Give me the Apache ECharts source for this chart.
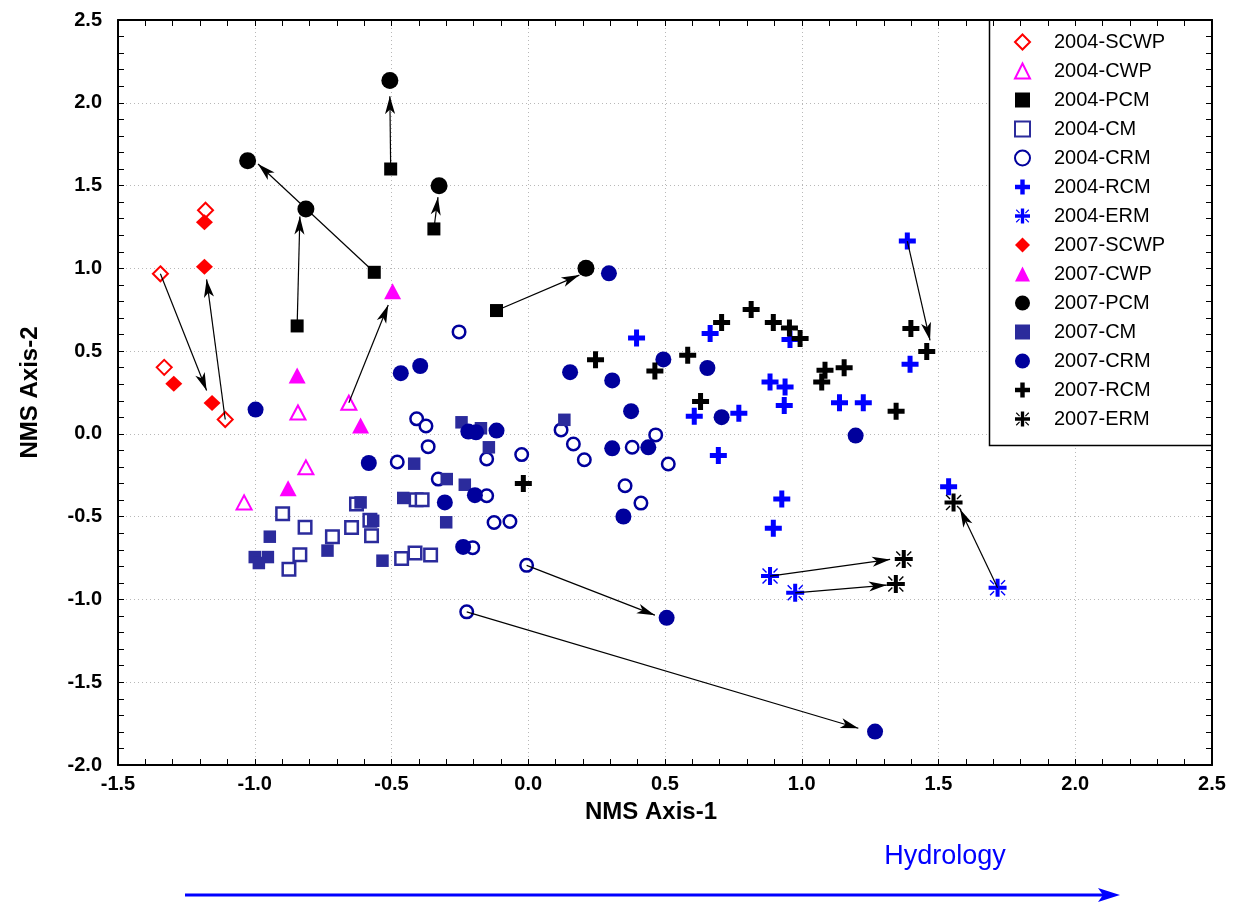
<!DOCTYPE html>
<html><head><meta charset="utf-8">
<script src="https://cdn.jsdelivr.net/npm/echarts@6/dist/echarts.min.js"></script>
<style>html,body{margin:0;padding:0;background:#fff}#c{width:1233px;height:905px}</style>
</head><body><div id="c"></div>
<script>
// ---- data ----
const scwp2004 = [[-1.180,1.351],[-1.345,0.967],[-1.331,0.402],[-1.108,0.087]];
const cwp2004  = [[-0.656,0.188],[-0.842,0.129],[-0.813,-0.202],[-1.039,-0.414]];
const pcm2004  = [[-0.503,1.600],[-0.563,0.976],[-0.845,0.652],[-0.345,1.238],[-0.116,0.745]];
const cm2004   = [[-0.898,-0.483],[-0.816,-0.564],[-0.835,-0.730],[-0.875,-0.818],[-0.716,-0.622],
                  [-0.628,-0.424],[-0.646,-0.566],[-0.579,-0.521],[-0.573,-0.616],[-0.463,-0.752],
                  [-0.414,-0.719],[-0.357,-0.732],[-0.410,-0.398],[-0.388,-0.398]];
const crm2004  = [[-0.253,0.616],[-0.408,0.091],[-0.374,0.048],[-0.366,-0.077],[-0.479,-0.170],
                  [-0.329,-0.273],[-0.152,-0.152],[-0.152,-0.374],[-0.024,-0.125],[-0.125,-0.535],
                  [-0.067,-0.529],[-0.203,-0.687],[-0.006,-0.794],[-0.225,-1.075],[0.120,0.024],
                  [0.165,-0.061],[0.205,-0.156],[0.380,-0.081],[0.466,-0.006],[0.512,-0.182],
                  [0.354,-0.313],[0.412,-0.418]];
const rcm2004  = [[0.396,0.579],[0.665,0.606],[0.607,0.107],[0.770,0.124],[0.695,-0.130],
                  [0.957,0.570],[0.884,0.313],[0.939,0.283],[0.936,0.171],[1.138,0.188],
                  [1.225,0.188],[1.396,0.420],[1.386,1.165],[1.537,-0.319],[0.927,-0.394],[0.896,-0.570]];
const erm2004  = [[0.884,-0.859],[0.976,-0.960],[1.716,-0.929]];
const scwp2007 = [[-1.184,1.279],[-1.184,1.010],[-1.296,0.303],[-1.156,0.186]];
const cwp2007  = [[-0.496,0.862],[-0.845,0.353],[-0.613,0.050],[-0.878,-0.328]];
const pcm2007  = [[-0.506,2.135],[-1.026,1.650],[-0.813,1.359],[-0.326,1.499],[0.211,1.000]];
const cm2007   = [[-0.945,-0.621],[-1.000,-0.744],[-0.952,-0.744],[-0.985,-0.780],[-0.734,-0.705],
                  [-0.613,-0.414],[-0.567,-0.525],[-0.533,-0.766],[-0.457,-0.387],[-0.417,-0.180],
                  [-0.298,-0.273],[-0.232,-0.307],[-0.300,-0.534],[-0.244,0.070],[-0.173,0.034],
                  [-0.144,-0.081],[0.132,0.085]];
const crm2007  = [[-0.997,0.147],[-0.466,0.367],[-0.395,0.410],[-0.583,-0.176],[-0.305,-0.414],
                  [-0.219,0.014],[-0.191,0.010],[-0.116,0.020],[-0.195,-0.370],[-0.238,-0.683],
                  [0.153,0.373],[0.307,0.323],[0.376,0.137],[0.494,0.450],[0.655,0.398],
                  [0.707,0.101],[0.307,-0.087],[0.439,-0.081],[0.348,-0.499],[0.295,0.970],
                  [1.197,-0.010],[0.506,-1.111],[1.268,-1.798]];
const rcm2007  = [[0.246,0.448],[0.463,0.380],[0.583,0.475],[0.707,0.673],[0.630,0.196],
                  [-0.018,-0.299],[0.815,0.751],[0.896,0.673],[0.955,0.640],[0.994,0.576],
                  [1.085,0.384],[1.155,0.400],[1.073,0.313],[1.345,0.137],[1.399,0.636],[1.457,0.497]];
const erm2007  = [[1.373,-0.756],[1.344,-0.907],[1.555,-0.414]];

// arrows: [from, arrow tip]
const arrows = [
  [[-0.503,1.600],[-0.506,2.040]],
  [[-0.563,0.976],[-0.988,1.630]],
  [[-0.845,0.652],[-0.835,1.313]],
  [[-0.345,1.238],[-0.330,1.430]],
  [[-0.116,0.745],[0.187,0.959]],
  [[-1.345,0.967],[-1.176,0.262]],
  [[-1.108,0.087],[-1.176,0.933]],
  [[-0.656,0.188],[-0.512,0.778]],
  [[-0.006,-0.794],[0.463,-1.095]],
  [[-0.225,-1.075],[1.207,-1.778]],
  [[0.884,-0.859],[1.323,-0.758]],
  [[0.976,-0.960],[1.311,-0.913]],
  [[1.716,-0.929],[1.579,-0.455]],
  [[1.386,1.165],[1.469,0.565]]
];

const xRange = [-1.5, 2.5];
const yRange = [-2.0, 2.5];
const tickStep = 0.5;
const xTitle = 'NMS Axis-1';
const yTitle = 'NMS Axis-2';
const noteText = 'Hydrology';

// ---- styling ----
const FONT = '"Liberation Sans", Arial, sans-serif';
const RED = '#ff0000', MAG = '#ff00ff', BLK = '#000000', CMC = '#2b2b9c', CRC = '#00009c', BLU = '#0000ff';
const PLUS = 'path://M6,0 H11 V6 H17 V11 H11 V17 H6 V11 H0 V6 H6 Z';
const STAR = 'path://M8,1 H12 V8 H19 V12 H12 V19 H8 V12 H1 V8 H8 Z M2,3 L3,2 L7,6 L6,7 Z M17,2 L18,3 L14,7 L13,6 Z M2,17 L6,13 L7,14 L3,18 Z M13,14 L14,13 L18,17 L17,18 Z';
// square bounding box (-10..10) so the tip sits at the symbol centre; points up
const ARROWHEAD = 'path://M0,0 L2.8,10 L0,7.4 L-2.8,10 Z M-10,-10 L-10,-10 Z M10,-10 L10,-10 Z';
const HEAD = 36;

function sc(name, data, symbol, size, color, hollow, bw) {
  return {
    name, type: 'scatter', data, symbol, symbolSize: size, z: 3,
    itemStyle: hollow ? {color: '#ffffff', borderColor: color, borderWidth: bw || 2.2, opacity: 1}
                      : {color: color, opacity: 1},
    emphasis: {disabled: true}
  };
}

const series = [
  {
    name: 'arrows', type: 'scatter', data: [], z: 2, silent: true,
    markLine: {
      silent: true, animation: false,
      symbol: ['none', 'none'],
      label: {show: false},
      emphasis: {disabled: true},
      lineStyle: {color: '#000', width: 1.2, type: 'solid', opacity: 1},
      data: arrows.map(a => [{coord: a[0]}, {coord: a[1]}])
    }
  },
  {
    name: 'heads', type: 'scatter', z: 2, silent: true, symbol: ARROWHEAD, symbolSize: HEAD,
    symbolKeepAspect: false,
    itemStyle: {color: '#000', opacity: 1}, emphasis: {disabled: true},
    data: arrows.map(a => ({value: a[1], symbolRotate: 0}))
  },
  sc('2004-SCWP', scwp2004, 'diamond', [15,15], RED, true, 2),
  sc('2004-CWP', cwp2004, 'triangle', [15,14], MAG, true, 2),
  sc('2004-PCM', pcm2004, 'rect', 13, BLK, false),
  sc('2004-CM', cm2004, 'rect', 12.5, CMC, true, 2.5),
  sc('2004-CRM', crm2004, 'circle', 12.5, CRC, true, 2.5),
  sc('2004-RCM', rcm2004, PLUS, 17, BLU, false),
  sc('2004-ERM', erm2004, STAR, 18, BLU, false),
  sc('2007-SCWP', scwp2007, 'diamond', [17,16], RED, false),
  sc('2007-CWP', cwp2007, 'triangle', [17,16], MAG, false),
  sc('2007-PCM', pcm2007, 'circle', 17, BLK, false),
  sc('2007-CM', cm2007, 'rect', 12.5, CMC, false),
  sc('2007-CRM', crm2007, 'circle', 16, CRC, false),
  sc('2007-RCM', rcm2007, PLUS, 17, BLK, false),
  sc('2007-ERM', erm2007, STAR, 18, BLK, false)
];

const legendNames = series.slice(2).map(s => s.name);

const axisCommon = {
  interval: tickStep,
  axisLine: {show: true, onZero: false, lineStyle: {color: '#000', width: 2}},
  axisTick: {show: true, inside: true, length: 6, lineStyle: {color: '#000', width: 1}},
  minorTick: {show: true, splitNumber: 5, length: 6, lineStyle: {color: '#000', width: 1}}
};
const labelStyle = {color: '#000', fontFamily: FONT, fontWeight: 'bold', fontSize: 20,
                    formatter: v => v.toFixed(1)};
const gridLine = {show: true, lineStyle: {color: '#b8b8b8', width: 1, type: [1, 3]}};

const option = {
  backgroundColor: '#ffffff',
  animation: false,
  grid: {left: 118, right: 21, top: 20, bottom: 140, containLabel: false},
  xAxis: [
    Object.assign({}, axisCommon, {
      type: 'value', position: 'bottom', min: xRange[0], max: xRange[1],
      axisLabel: Object.assign({margin: 9}, labelStyle),
      splitLine: gridLine,
      name: xTitle, nameLocation: 'middle', nameGap: 35,
      nameTextStyle: {color: '#000', fontFamily: FONT, fontWeight: 'bold', fontSize: 24, padding: [0, 28, 0, 0]}
    }),
    Object.assign({}, axisCommon, {
      type: 'value', position: 'top', min: xRange[0], max: xRange[1], z: 5,
      axisLabel: {show: false}, splitLine: {show: false}
    })
  ],
  yAxis: [
    Object.assign({}, axisCommon, {
      type: 'value', position: 'left', min: yRange[0], max: yRange[1],
      axisLabel: Object.assign({margin: 16}, labelStyle),
      splitLine: gridLine,
      name: yTitle, nameLocation: 'middle', nameGap: 76, nameRotate: 90,
      nameTextStyle: {color: '#000', fontFamily: FONT, fontWeight: 'bold', fontSize: 24}
    }),
    Object.assign({}, axisCommon, {
      type: 'value', position: 'right', min: yRange[0], max: yRange[1], z: 5,
      axisLabel: {show: false}, splitLine: {show: false}
    })
  ],
  legend: {
    data: legendNames, orient: 'vertical', left: 1014, top: 32,
    itemWidth: 15, itemHeight: 15, itemGap: 9, padding: 0, selectedMode: false,
    textStyle: {color: '#000', fontFamily: FONT, fontSize: 20, lineHeight: 20, padding: [0, 0, 0, 19]}
  },
  graphic: [
    {type: 'rect', z: 1, shape: {x: 989.5, y: 20, width: 222.5, height: 425.5},
     style: {fill: '#ffffff', stroke: '#000', lineWidth: 1.5}},
    {type: 'text', z: 5, x: 945, y: 857,
     style: {text: noteText, fill: BLU, font: '27px ' + FONT, align: 'center', verticalAlign: 'middle'}},
    {type: 'line', z: 5, shape: {x1: 185, y1: 895, x2: 1108, y2: 895},
     style: {stroke: BLU, lineWidth: 3}},
    {type: 'polygon', z: 5, shape: {points: [[1098, 888], [1120, 895], [1098, 902], [1103, 895]]},
     style: {fill: BLU}}
  ],
  series
};

const chart = echarts.init(document.getElementById('c'), null, {renderer: 'canvas'});
chart.setOption(option);

// orient each arrowhead along its line, using the chart's own scales
const headData = arrows.map(a => {
  const p0 = chart.convertToPixel({xAxisIndex: 0, yAxisIndex: 0}, a[0]);
  const p1 = chart.convertToPixel({xAxisIndex: 0, yAxisIndex: 0}, a[1]);
  const dx = p1[0] - p0[0], dy = p1[1] - p0[1];
  const deg = Math.atan2(-dx, -dy) * 180 / Math.PI;
  return {value: a[1], symbolRotate: deg};
});
chart.setOption({series: [{}, {data: headData}]});
</script>
</body></html>
